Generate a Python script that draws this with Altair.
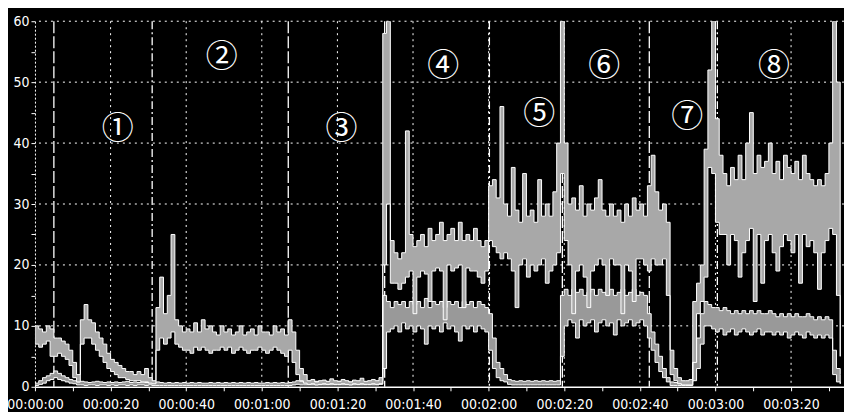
import altair as alt
import pandas as pd

# time in seconds
T = list(range(214))

# upper series (band top / bottom)
A_HI = [
    10, 9.5, 9, 10, 9.5, 8, 8, 7.5, 7, 6,
    4, 2, 11, 13.5, 11, 10.5, 9, 8, 7, 5.5,
    4.5, 4, 3.5, 3, 2.5, 2.5, 2, 2.5, 2, 3,
    1.5, 1, 13, 18, 12, 15, 25, 11, 10, 9,
    9.5, 9, 10.5, 9, 11, 9.5, 10, 9, 8.5, 10,
    9, 9.5, 8.5, 9, 10, 8.5, 9, 9.5, 8.5, 10,
    9, 9, 8.5, 10, 9, 9.5, 8.5, 11, 9, 6,
    3, 2, 1, 1.2, 0.8, 1, 1.1, 0.9, 1.3, 1,
    0.9, 1.2, 1, 0.8, 1.1, 1, 1.4, 0.9, 1, 1.2,
    1, 1.5, 58, 60, 24, 22, 21, 22, 42, 25,
    23, 24, 25, 23, 26, 24, 25, 27, 24, 25,
    26, 24, 27, 24, 25, 24, 26, 24, 23, 24,
    33, 34, 31, 46, 30, 28, 36, 29, 27, 35,
    28, 29, 27, 34, 28, 30, 28, 32, 40, 60,
    40, 30, 31, 29, 33, 28, 30, 29, 31, 34,
    29, 28, 30, 28, 29, 27, 30, 28, 31, 29,
    30, 28, 33, 38, 32, 29, 30, 27, 6, 3,
    1.5, 1, 1, 1.2, 14, 17, 20, 39, 52, 60,
    44, 38, 35, 33, 36, 34, 38, 34, 40, 45,
    35, 38, 36, 37, 40, 35, 37, 34, 38, 36,
    35, 37, 34, 38, 35, 34, 33, 34, 33, 35,
    40, 60, 50, 20,
]
A_LO = [
    7, 6.5, 7, 7.5, 5, 5, 5.5, 5, 4.5, 3.5,
    1.5, 0.8, 7, 8, 8, 7, 6, 5, 4, 3,
    2.5, 2, 1.5, 1.5, 1.2, 1, 1, 1, 0.8, 0.8,
    0.6, 0.5, 6, 8, 7, 8, 9, 7, 6.5, 6,
    6, 5.5, 6.5, 6, 6.5, 6, 5.5, 6, 6, 6.5,
    6, 6.5, 5.5, 6, 6.5, 6, 5.5, 6, 6, 6.5,
    6, 5.5, 6, 6.5, 6, 5.5, 5, 6, 4, 2,
    1, 0.6, 0.4, 0.5, 0.3, 0.4, 0.5, 0.4, 0.5, 0.4,
    0.4, 0.5, 0.4, 0.3, 0.5, 0.4, 0.5, 0.4, 0.4, 0.5,
    0.4, 0.5, 20, 30, 17, 17, 16, 17, 18, 19,
    12, 18, 19, 18.5, 14, 19, 19.5, 19, 11, 20,
    19, 19.5, 20, 13, 19.5, 19, 19, 18, 17, 19,
    24, 23, 22, 21, 22, 21, 19, 13, 20, 21,
    18, 20, 19, 20, 21, 17, 19, 20, 22, 35,
    24, 20, 12, 19, 20, 18, 13, 19, 20, 21,
    20, 15, 21, 20, 20, 12, 20, 19, 14, 21,
    21, 20, 19, 21, 20, 20, 21, 15, 2, 1,
    0.5, 0.3, 0.3, 0.3, 4, 12, 14, 18, 36, 35,
    27, 25, 25, 20, 25, 24, 18, 22, 24, 26,
    14, 25, 17, 24, 25, 22, 19, 23, 25, 24,
    22, 25, 17, 25, 23, 24, 22, 16, 22, 24,
    26, 25, 15, 5,
]

# lower series (band top / bottom)
B_HI = [
    0.6, 1, 1.5, 1.8, 2.2, 2.6, 2.2, 1.8, 1.5, 1.2,
    1, 0.8, 0.9, 0.8, 0.7, 0.8, 0.9, 0.8, 0.7, 0.8,
    0.7, 0.8, 0.7, 0.8, 0.9, 0.7, 0.8, 0.7, 0.8, 0.7,
    0.8, 0.7, 0.8, 0.7, 0.6, 0.7, 0.6, 0.7, 0.6, 0.7,
    0.6, 0.7, 0.6, 0.7, 0.6, 0.6, 0.7, 0.6, 0.7, 0.6,
    0.7, 0.6, 0.7, 0.6, 0.7, 0.6, 0.7, 0.6, 0.7, 0.6,
    0.6, 0.7, 0.6, 0.7, 0.6, 0.7, 0.6, 0.7, 0.8, 1,
    0.9, 0.8, 0.9, 0.8, 0.9, 0.8, 0.9, 0.8, 0.9, 0.8,
    0.9, 0.8, 0.9, 0.8, 0.9, 0.8, 0.9, 0.8, 0.9, 0.8,
    0.9, 1, 15, 14, 13, 14, 13.5, 14, 13, 14,
    13.5, 14, 13, 14.5, 13, 14, 13.5, 14, 13, 14,
    13.5, 14, 13, 14, 13.5, 14, 13, 14, 13.5, 13,
    12, 8, 4, 3, 2, 1.2, 1, 0.9, 1, 0.9,
    1, 0.9, 1, 0.9, 1, 0.9, 1, 0.9, 1, 15,
    16, 15, 16, 15.5, 16, 15, 15.5, 16, 15, 16,
    15.5, 15, 16, 15, 15.5, 16, 15, 15.5, 16, 15,
    15.5, 15, 12, 9, 7, 5, 3, 1.5, 0.8, 0.7,
    0.6, 0.6, 0.7, 0.8, 4, 8, 12, 14, 13.5, 13,
    13, 12.5, 13, 12.5, 12, 12.5, 12, 12.5, 12, 12.5,
    12, 12.5, 12, 12, 12.5, 12, 11.5, 12, 11.5, 12,
    11.5, 12, 11.5, 11.5, 12, 11.5, 11, 11.5, 11, 11.5,
    11, 6, 3, 2,
]
B_LO = [
    0.2, 0.4, 0.6, 1, 1.2, 1.5, 1.2, 1, 0.8, 0.6,
    0.5, 0.3, 0.3, 0.2, 0.3, 0.3, 0.2, 0.3, 0.3, 0.2,
    0.3, 0.2, 0.3, 0.3, 0.2, 0.3, 0.2, 0.3, 0.3, 0.2,
    0.3, 0.2, 0.2, 0.2, 0.2, 0.2, 0.2, 0.2, 0.2, 0.2,
    0.2, 0.2, 0.2, 0.2, 0.2, 0.2, 0.2, 0.2, 0.2, 0.2,
    0.2, 0.2, 0.2, 0.2, 0.2, 0.2, 0.2, 0.2, 0.2, 0.2,
    0.2, 0.2, 0.2, 0.2, 0.2, 0.2, 0.2, 0.2, 0.3, 0.4,
    0.3, 0.3, 0.3, 0.3, 0.3, 0.3, 0.3, 0.3, 0.3, 0.3,
    0.3, 0.3, 0.3, 0.3, 0.3, 0.3, 0.3, 0.3, 0.3, 0.3,
    0.3, 0.4, 3, 9, 9.5, 10, 9, 10.5, 9.5, 10,
    9, 10, 9.5, 7, 10, 9.5, 10, 9, 10.5, 9.5,
    10, 9, 7.5, 10, 9.5, 10, 9, 10, 9.5, 9,
    6, 3, 1.5, 1, 0.8, 0.4, 0.3, 0.3, 0.3, 0.3,
    0.3, 0.3, 0.3, 0.3, 0.3, 0.3, 0.3, 0.3, 0.3, 5,
    10, 11, 10.5, 8, 11, 10, 10.5, 11, 9, 10.5,
    11, 10, 10.5, 8.5, 11, 10, 10.5, 11, 10, 10.5,
    11, 10, 8, 6, 4, 2.5, 1.5, 0.8, 0.2, 0.2,
    0.2, 0.2, 0.2, 0.2, 1, 3, 7, 10, 10, 9.5,
    9, 9.5, 8.5, 9, 9.5, 8.5, 9, 9.5, 9, 8.5,
    9, 9.5, 8.5, 9, 9, 8.5, 9, 8.5, 9, 8,
    8.5, 9, 8.5, 8, 9, 8.5, 8, 8.5, 8, 8.5,
    8, 2, 0.8, 0.5,
]

# phase boundaries
BOUND_T = [5, 31, 67, 92.5, 120.2, 139.5, 162.5, 180.5]
BOUND_STYLE = ["dash", "dashdot", "dash", "dash", "dashdot", "dash", "dash", "dashdot"]

# circled phase labels
PHASE_LABELS = ["①", "②", "③", "④", "⑤", "⑥", "⑦", "⑧"]
PHASE_T = [21.9, 49.4, 81.1, 108, 133.4, 150.6, 172.5, 195.5]
PHASE_V = [42.3, 54.1, 42.3, 52.6, 44.7, 52.6, 44.3, 52.6]

X_GRID = [20, 40, 60, 80, 100, 120, 140, 160, 180, 200]
Y_GRID = [10, 20, 30, 40, 50, 60]
X_TICKS = [0, 10, 20, 30, 40, 50, 60, 70, 80, 90, 100, 110, 120, 130, 140,
           150, 160, 170, 180, 190, 200, 210]
Y_TICKS = [0, 5, 10, 15, 20, 25, 30, 35, 40, 45, 50, 55, 60]

FONT = "Liberation Sans Narrow, DejaVu Sans Condensed, sans-serif"

df = pd.DataFrame({"t": T, "a_hi": A_HI, "a_lo": A_LO, "b_hi": B_HI, "b_lo": B_LO})
bounds = pd.DataFrame({"t": BOUND_T, "style": BOUND_STYLE})
labels = pd.DataFrame({"t": PHASE_T, "v": PHASE_V, "label": PHASE_LABELS})

xs = alt.Scale(domain=[0, 214], nice=False, zero=False)
ys = alt.Scale(domain=[0, 60], nice=False)

x_axis = alt.Axis(
    values=X_TICKS,
    labelExpr="datum.value % 20 == 0 ? timeFormat(datetime(2000, 0, 1, 0, 0, datum.value), '%H:%M:%S') : ''",
    grid=False, title=None, domainColor="white", domainWidth=1.5,
    tickColor="white", tickSize=4, labelColor="white", labelFont=FONT,
    labelFontSize=14, labelPadding=7, labelOverlap=False, labelFlush=False,
)
y_axis = alt.Axis(
    values=Y_TICKS,
    labelExpr="datum.value % 10 == 0 ? datum.label : ''",
    grid=False, title=None, domainColor="white", domainDash=[2, 2],
    tickColor="white", tickSize=4, labelColor="white", labelFont=FONT,
    labelFontSize=14, labelPadding=2, labelOverlap=False, labelFlush=False,
)

hgrid = alt.Chart(pd.DataFrame({"v": Y_GRID})).mark_rule(
    color="white", strokeDash=[2, 4], strokeWidth=1
).encode(y=alt.Y("v:Q", scale=ys, axis=y_axis))

vgrid = alt.Chart(pd.DataFrame({"t": X_GRID})).mark_rule(
    color="white", strokeDash=[2, 4], strokeWidth=1
).encode(x=alt.X("t:Q", scale=xs, axis=x_axis))

brules = alt.Chart(bounds).mark_rule(color="white", strokeWidth=1.3).encode(
    x=alt.X("t:Q", scale=xs, axis=x_axis),
    strokeDash=alt.StrokeDash(
        "style:N",
        scale=alt.Scale(domain=["dash", "dashdot"], range=[[12, 3], [8, 3, 2, 3]]),
        legend=None,
    ),
)

b_area = alt.Chart(df).mark_area(
    interpolate="step-after", fill="#999999", stroke="white", strokeWidth=1, clip=True
).encode(
    x=alt.X("t:Q", scale=xs, axis=x_axis),
    y=alt.Y("b_lo:Q", scale=ys, axis=y_axis),
    y2="b_hi:Q",
)

a_area = alt.Chart(df).mark_area(
    interpolate="step-after", fill="#a8a8a8", stroke="white", strokeWidth=1, clip=True
).encode(
    x=alt.X("t:Q", scale=xs, axis=x_axis),
    y=alt.Y("a_lo:Q", scale=ys, axis=y_axis),
    y2="a_hi:Q",
)

text = alt.Chart(labels).mark_text(
    color="white", font="Noto Sans CJK JP", fontSize=32, align="center", baseline="middle"
).encode(
    x=alt.X("t:Q", scale=xs, axis=x_axis),
    y=alt.Y("v:Q", scale=ys, axis=y_axis),
    text="label:N",
)

chart = alt.layer(hgrid, vgrid, brules, b_area, a_area, text).properties(
    width=810, height=366,
    background="black",
    padding={"left": 27, "top": 13, "right": 0, "bottom": 25},
    autosize=alt.AutoSizeParams(type="none"),
).configure_view(stroke=None)

chart.save("out.html", embed_options={"renderer": "svg", "actions": False})
